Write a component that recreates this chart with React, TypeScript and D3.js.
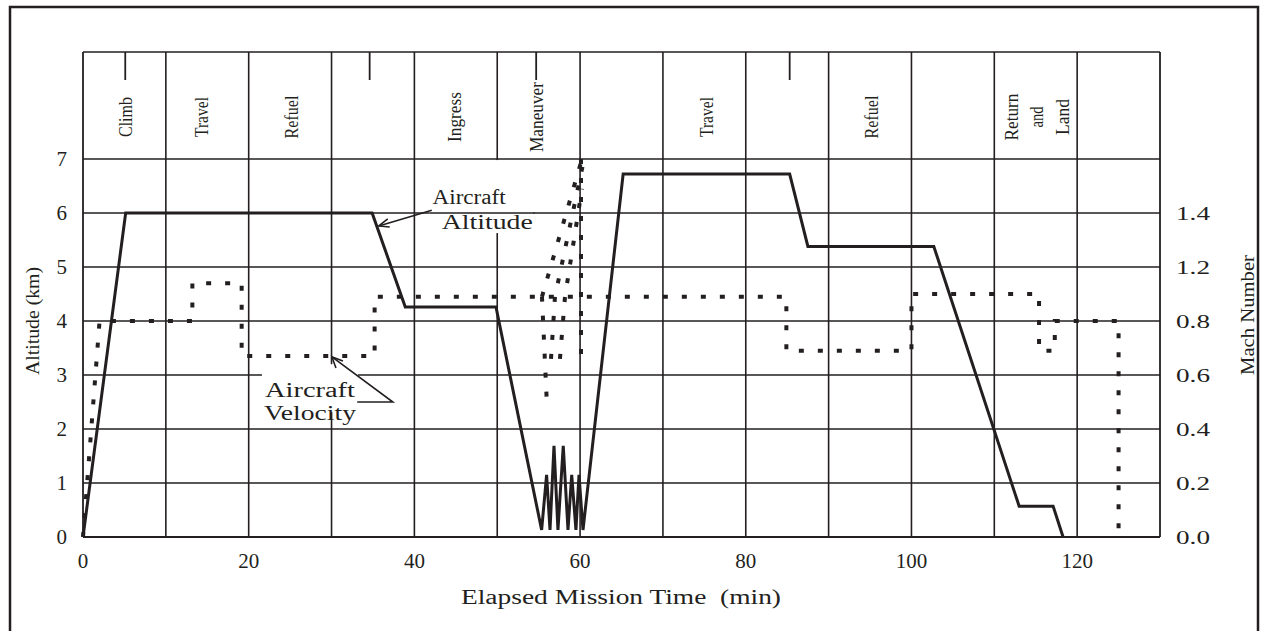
import React from 'react';
import * as d3 from 'd3';

// ---------- data ----------
const gridTimes = [10, 20, 30, 40, 50, 60, 70, 80, 90, 100, 110, 120];
const timeTicks = [0, 20, 40, 60, 80, 100, 120];
const altitudeTicks = [0, 1, 2, 3, 4, 5, 6, 7];
const machTickLabels = ['0.0', '0.2', '0.4', '0.6', '0.8', '1.2', '1.4'];

// Aircraft altitude (min, km)
const altitude: [number, number][] = [
  [0, 0], [5.15, 6.0], [34.9, 6.0], [38.9, 4.26], [49.85, 4.26],
  [55.36, 0.13], [55.96, 1.15], [56.37, 0.13], [56.85, 1.69], [57.33, 0.13],
  [57.97, 1.69], [58.54, 0.13], [58.99, 1.15], [59.5, 0.13], [59.87, 1.15],
  [60.35, 0.13], [65.2, 6.72], [85.3, 6.72], [87.5, 5.38], [102.7, 5.38],
  [113.0, 0.57], [117.1, 0.57], [118.3, 0],
];

// Aircraft velocity (min, Mach)
const velocity: [number, number][] = [
  [0, 0], [2.0, 0.8], [13.2, 0.8], [13.2, 0.94], [19.15, 0.94], [19.15, 0.67],
  [35.2, 0.67], [35.2, 0.89], [84.9, 0.89], [84.9, 0.69], [100.0, 0.69],
  [100.0, 0.9], [115.4, 0.9], [115.4, 0.69], [117.3, 0.69], [117.3, 0.8],
  [125.0, 0.8], [125.0, 0],
];

// Velocity during the maneuver (fan of traces)
const velocityManeuver: [number, number][][] = [
  [[55.4, 0.89], [56.0, 0.49]],
  [[55.4, 0.89], [60.23, 1.4]],
  [[56.49, 0.66], [56.97, 0.89], [60.35, 1.38]],
  [[57.57, 0.66], [58.18, 0.89], [60.23, 1.29]],
  [[60.11, 1.4], [60.11, 0.65]],
];

const phaseNames: string[][] = [
  ['Climb'], ['Travel'], ['Refuel'], ['Ingress'], ['Maneuver'], ['Travel'], ['Refuel'], ['Return', 'and', 'Land'],
];
const phaseCenters = [5.1, 14.3, 25.2, 44.9, 54.7, 75.2, 95.2, 115.1];
const phaseLengths = [[40], [40], [43], [50], [70], [40], [43], [47, 21, 36]];
const phaseMarks = [5.1, 34.6, 54.7, 85.3];

// ---------- component ----------
const INK = '#231f20';
const FONT = '"Liberation Serif", "Times New Roman", serif';

export default function App() {
  const left = 83, right = 1160, bottom = 537, top7 = 159, headerTop = 52;
  const x = d3.scaleLinear().domain([0, 130]).range([left, right]);
  const yAlt = d3.scaleLinear().domain([0, 7]).range([bottom, top7]);
  const yMach = d3.scaleLinear().domain([0, 1.4]).range([bottom, top7]);

  const altLine = d3.line<[number, number]>().x(d => x(d[0])).y(d => yAlt(d[1]));
  const velLine = d3.line<[number, number]>().x(d => x(d[0])).y(d => yMach(d[1]));

  const dotted = { fill: 'none', stroke: INK, strokeWidth: 4, strokeDasharray: '5 14' } as const;

  return (
    <svg width={1263} height={631} style={{ position: 'absolute', left: 0, top: 0, background: '#fff' }}
      fontFamily={FONT}>
      {/* outer border */}
      <rect x={10} y={7} width={1248} height={650} fill="none" stroke={INK} strokeWidth={2.5} />

      {/* horizontal gridlines */}
      {altitudeTicks.slice(1).map(k => (
        <line key={'h' + k} x1={left} x2={right} y1={yAlt(k)} y2={yAlt(k)} stroke={INK} strokeWidth={1.6} />
      ))}
      <line x1={left} x2={right} y1={headerTop} y2={headerTop} stroke={INK} strokeWidth={1.6} />
      {/* vertical gridlines */}
      {gridTimes.map(t => (
        <line key={'v' + t} x1={x(t)} x2={x(t)} y1={headerTop} y2={bottom} stroke={INK} strokeWidth={1.6} />
      ))}
      <line x1={left} x2={left} y1={headerTop} y2={bottom} stroke={INK} strokeWidth={1.8} />
      <line x1={right} x2={right} y1={headerTop} y2={bottom} stroke={INK} strokeWidth={1.8} />
      <line x1={left} x2={right} y1={bottom} y2={bottom} stroke={INK} strokeWidth={2} />

      {/* label knockouts */}
      <rect x={x(21.6)} y={yMach(0.64)} width={96} height={48} fill="#fff" />
      <rect x={x(41.8)} y={yAlt(6.98)} width={104} height={73} fill="#fff" />
      <line x1={x(41.8)} x2={x(54.5)} y1={yAlt(6)} y2={yAlt(6)} stroke={INK} strokeWidth={1.6} />

      {/* phase header */}
      {phaseMarks.map(t => (
        <line key={'m' + t} x1={x(t)} x2={x(t)} y1={headerTop} y2={headerTop + 28} stroke={INK} strokeWidth={1.8} />
      ))}
      {phaseNames.map((lines, i) => (
        <g key={'p' + i}>
          {lines.map((s, j) => (
            <text key={j}
              transform={`translate(${x(phaseCenters[i]) + (j - (lines.length - 1) / 2) * 25.5},${117}) rotate(-90)`}
              textAnchor="middle" dominantBaseline="central" fontSize={19}
              textLength={phaseLengths[i][j]} lengthAdjust="spacingAndGlyphs" fill={INK}>{s}</text>
          ))}
        </g>
      ))}

      {/* data */}
      <path d={velLine(velocity) || ''} {...dotted} />
      {velocityManeuver.map((seg, i) => (
        <path key={'vm' + i} d={velLine(seg) || ''} {...dotted} />
      ))}
      <path d={altLine(altitude) || ''} fill="none" stroke={INK} strokeWidth={3} strokeLinejoin="miter" />

      {/* left axis */}
      {altitudeTicks.map(k => (
        <text key={'la' + k} x={67} y={yAlt(k)} textAnchor="end" dominantBaseline="central" fontSize={21} fill={INK}>{k}</text>
      ))}
      <text transform={`translate(32,321) rotate(-90)`} textAnchor="middle" dominantBaseline="central" fontSize={19}
        textLength={108} lengthAdjust="spacingAndGlyphs" fill={INK}>Altitude (km)</text>

      {/* right axis */}
      {machTickLabels.map((s, i) => (
        <text key={'ra' + i} x={1176} y={yAlt(altitudeTicks[i])} dominantBaseline="central" fontSize={19}
          textLength={34} lengthAdjust="spacingAndGlyphs" fill={INK}>{s}</text>
      ))}
      <text transform={`translate(1247,315) rotate(-90)`} textAnchor="middle" dominantBaseline="central" fontSize={19}
        textLength={120} lengthAdjust="spacingAndGlyphs" fill={INK}>Mach Number</text>

      {/* bottom axis */}
      {timeTicks.map(t => (
        <text key={'b' + t} x={x(t)} y={561} textAnchor="middle" dominantBaseline="central" fontSize={21} fill={INK}>{t}</text>
      ))}
      <text x={621} y={597} textAnchor="middle" dominantBaseline="central" fontSize={20}
        textLength={320} lengthAdjust="spacingAndGlyphs" fill={INK} style={{ whiteSpace: 'pre' }}>Elapsed Mission Time  (min)</text>

      {/* annotations */}
      <text x={x(42.2)} y={204} fontSize={20} textLength={73} lengthAdjust="spacingAndGlyphs" fill={INK}>Aircraft</text>
      <text x={x(43.3)} y={229} fontSize={20} textLength={91} lengthAdjust="spacingAndGlyphs" fill={INK}>Altitude</text>
      <line x1={x(42.1)} y1={yAlt(6.05)} x2={x(35.7)} y2={yAlt(5.76)} stroke={INK} strokeWidth={1.6} />
      <path d={`M${x(35.7) + 9},${yAlt(5.76) - 7} L${x(35.7)},${yAlt(5.76)} L${x(35.7) + 11},${yAlt(5.76) + 1}`}
        fill="none" stroke={INK} strokeWidth={1.6} />

      <text x={x(27.4)} y={397} textAnchor="middle" fontSize={20} textLength={90} lengthAdjust="spacingAndGlyphs" fill={INK}>Aircraft</text>
      <text x={x(27.4)} y={420} textAnchor="middle" fontSize={20} textLength={92} lengthAdjust="spacingAndGlyphs" fill={INK}>Velocity</text>
      <polyline points={`${x(33.1)},${yMach(0.5)} ${x(37.4)},${yMach(0.5)} ${x(30.05)},${yMach(0.667)}`}
        fill="none" stroke={INK} strokeWidth={1.6} />
      <path d={`M${x(30.05) + 4},${yMach(0.667) + 11} L${x(30.05)},${yMach(0.667)} L${x(30.05) + 11},${yMach(0.667) + 4}`}
        fill="none" stroke={INK} strokeWidth={1.6} />
    </svg>
  );
}
